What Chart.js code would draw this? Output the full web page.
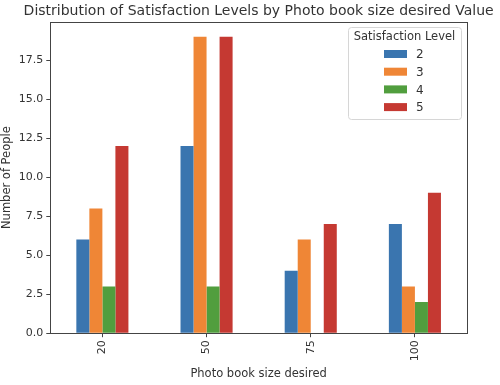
<!DOCTYPE html>
<html lang="en">
<head>
  <meta charset="UTF-8">
  <title>Satisfaction Levels by Photo book size</title>
  <script src="https://cdn.jsdelivr.net/npm/chart.js"></script>
  <style>
    html, body { margin: 0; padding: 0; background: #fff; }
    #wrap { width: 500px; height: 385px; }
  </style>
</head>
<body>
  <div id="wrap"><canvas id="chart" width="500" height="385"></canvas></div>
  <script>
    // Data
    const sizes = ['20', '50', '75', '100'];
    const levels = ['2', '3', '4', '5'];
    const level2 = [6, 12, 4, 7];
    const level3 = [8, 19, 6, 3];
    const level4 = [3, 3, 0, 2];
    const level5 = [12, 19, 7, 9];
    const yTicks = [0, 2.5, 5, 7.5, 10, 12.5, 15, 17.5];
    const titleText = 'Distribution of Satisfaction Levels by Photo book size desired Value';

    const colors = ['#3a75af', '#ef8636', '#519e3e', '#c53932'];
    const series = [level2, level3, level4, level5];
    const FONT = 'DejaVu Sans';
    const TXT = '#333';

    // Title centred on the axes, frame around plot, legend box top right
    const framePlugin = {
      id: 'frame',
      afterDraw(chart) {
        const { ctx, chartArea: a } = chart;
        ctx.save();
        ctx.fillStyle = TXT;
        ctx.font = '14px ' + FONT;
        ctx.textAlign = 'center';
        ctx.textBaseline = 'middle';
        ctx.fillText(titleText, (a.left + a.right) / 2, 11);

        ctx.strokeStyle = '#444';
        ctx.lineWidth = 1;
        ctx.strokeRect(Math.round(a.left) + 0.5, Math.round(a.top) + 0.5,
          Math.round(a.right - a.left), Math.round(a.bottom - a.top));

        // legend
        const bx = a.right - 119, by = a.top + 5, bw = 113, bh = 92;
        ctx.fillStyle = 'rgba(255,255,255,0.8)';
        ctx.strokeStyle = '#d6d6d6';
        ctx.beginPath();
        ctx.roundRect(bx + 0.5, by + 0.5, bw, bh, 3);
        ctx.fill();
        ctx.stroke();
        ctx.fillStyle = TXT;
        ctx.font = '11.5px ' + FONT;
        ctx.fillText('Satisfaction Level', bx + bw / 2, by + 10);
        ctx.textAlign = 'left';
        ctx.font = '12px ' + FONT;
        chart.data.datasets.forEach((ds, i) => {
          const y = by + 27 + i * 17.7;
          ctx.fillStyle = ds.backgroundColor;
          ctx.fillRect(bx + 36, y - 4, 23, 8);
          ctx.fillStyle = TXT;
          ctx.fillText(ds.label, bx + 68, y + 1);
        });
        ctx.restore();
      }
    };

    const ctx = document.getElementById('chart').getContext('2d');
    new Chart(ctx, {
      type: 'bar',
      data: {
        labels: sizes,
        datasets: levels.map((lv, i) => ({
          label: lv,
          data: series[i],
          backgroundColor: colors[i],
          categoryPercentage: 0.5,
          barPercentage: 1.0
        }))
      },
      options: {
        responsive: false,
        animation: false,
        layout: { padding: { left: 0, right: 33, top: 22, bottom: 4 } },
        plugins: {
          legend: { display: false },
          tooltip: { enabled: false },
          title: { display: false }
        },
        scales: {
          x: {
            grid: { display: true, offset: false, drawOnChartArea: false, drawTicks: true, tickLength: 4, color: '#444' },
            border: { display: false },
            ticks: {
              color: TXT, font: { family: FONT, size: 11 },
              minRotation: 90, maxRotation: 90, padding: 3
            },
            title: {
              display: true, text: 'Photo book size desired', color: TXT,
              font: { family: FONT, size: 11.5 }, padding: { top: 3, bottom: 0 }
            }
          },
          y: {
            min: 0,
            max: 19.95,
            afterBuildTicks(axis) {
              axis.ticks = yTicks.map(v => ({ value: v }));
            },
            grid: { display: true, drawOnChartArea: false, drawTicks: true, tickLength: 4, color: '#444' },
            border: { display: false },
            ticks: {
              color: TXT, font: { family: FONT, size: 11 }, padding: 3,
              callback: v => Number(v).toFixed(1)
            },
            title: {
              display: true, text: 'Number of People', color: TXT,
              font: { family: FONT, size: 11.5 }, padding: { top: 0, bottom: 2 }
            }
          }
        }
      },
      plugins: [framePlugin]
    });
  </script>
</body>
</html>
